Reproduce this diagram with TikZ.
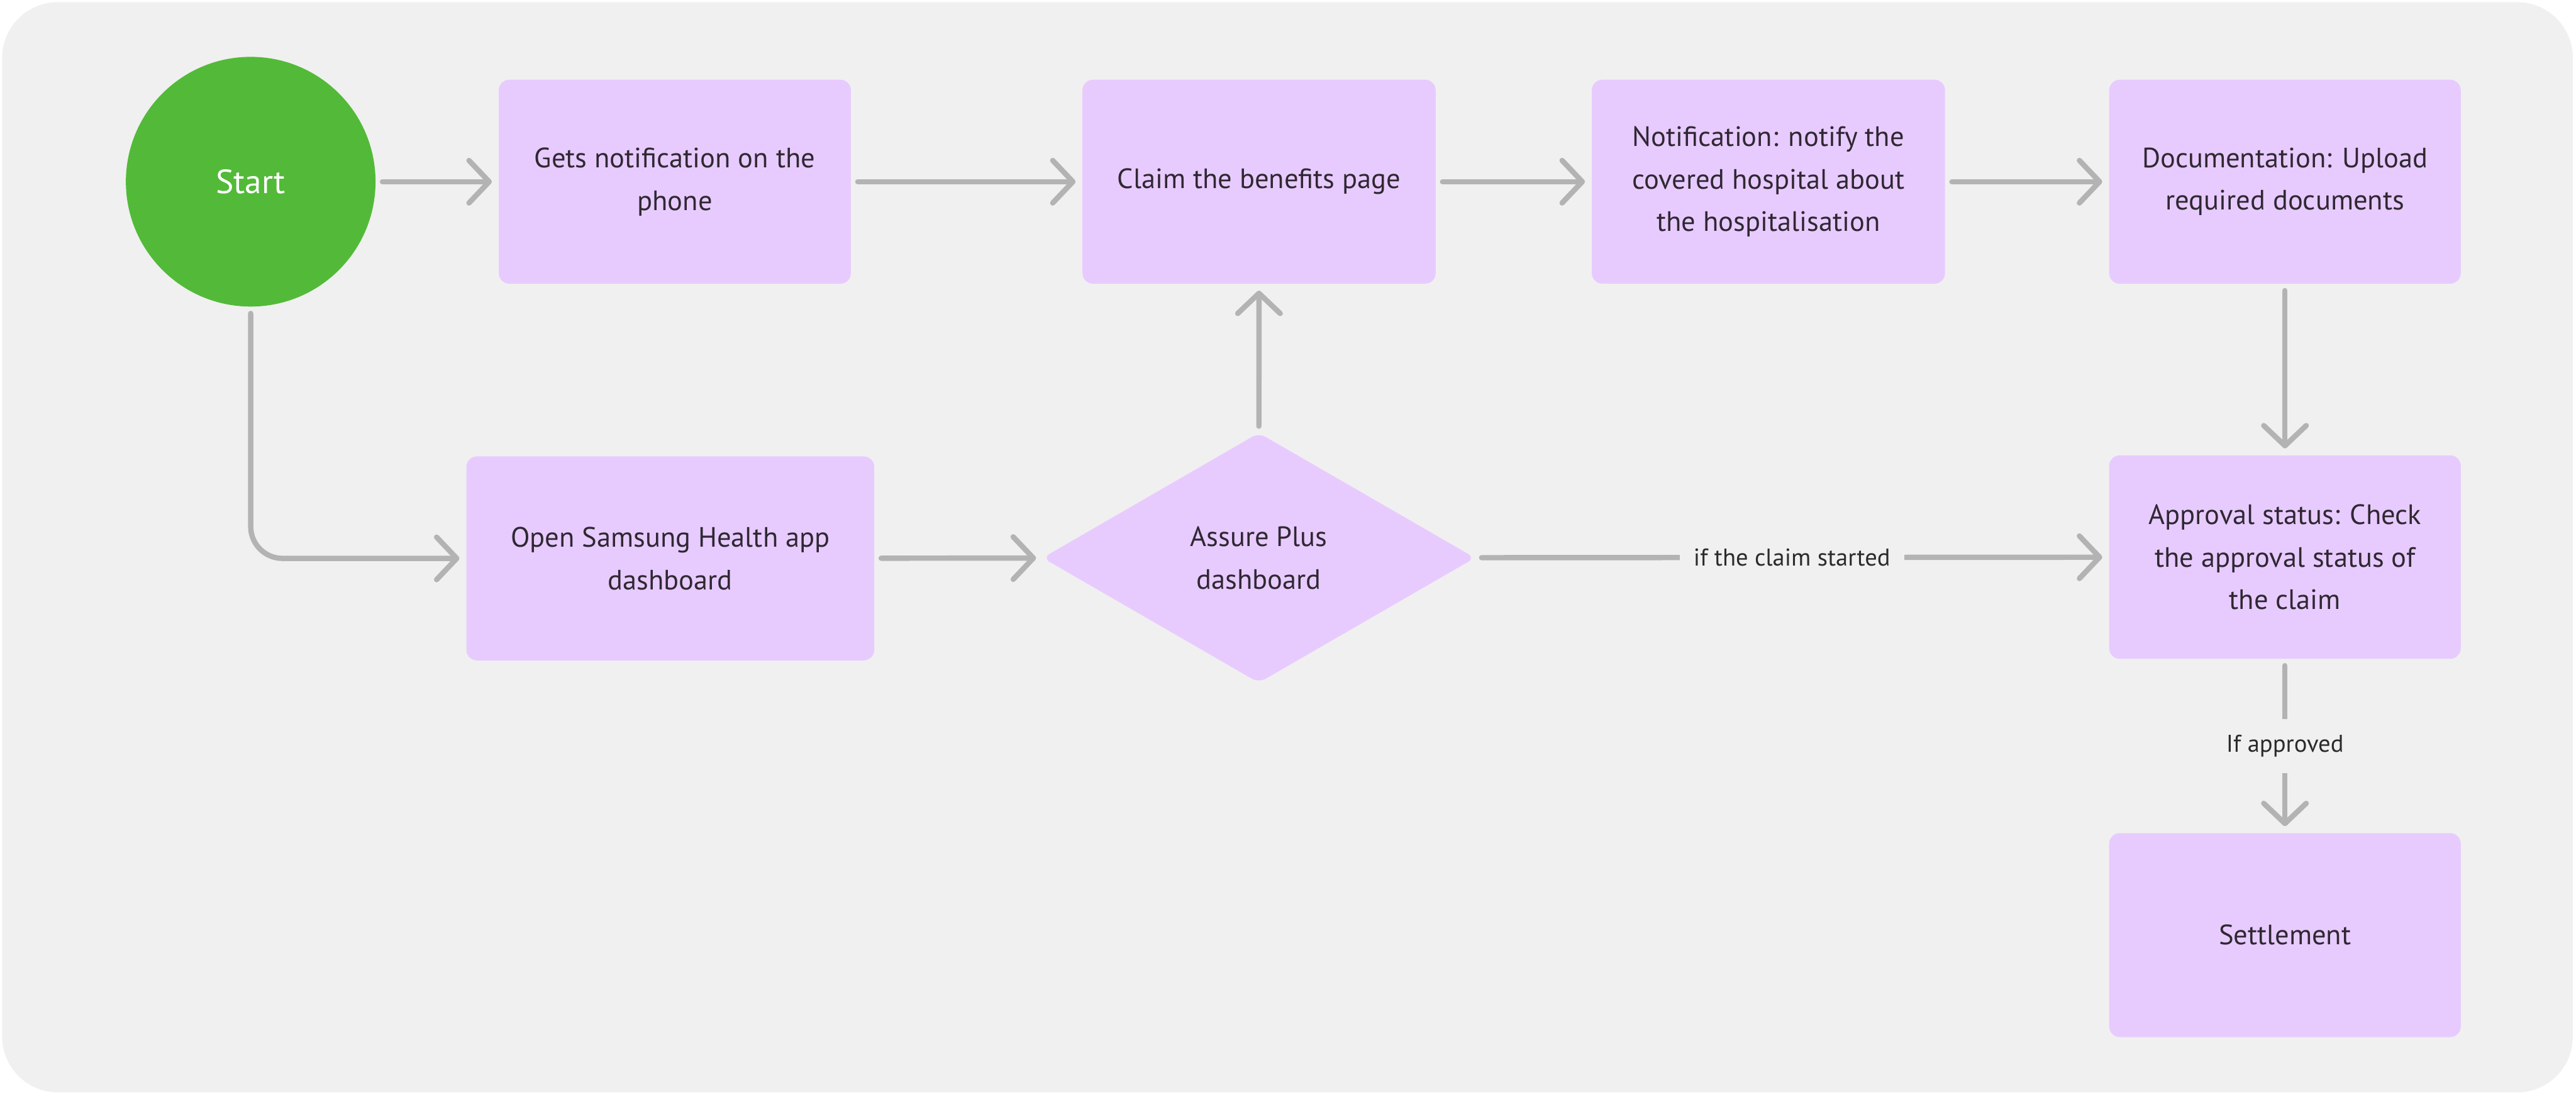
\documentclass[tikz,border=0pt]{standalone}
\usepackage{fontspec}
\setmainfont{PT Sans}
\usetikzlibrary{shapes.geometric,arrows.meta}
\definecolor{bg}{HTML}{F0F0F0}
\definecolor{boxfill}{HTML}{E8CBFE}
\definecolor{startgreen}{HTML}{52BA38}
\definecolor{arrowgray}{HTML}{B3B3B3}
\definecolor{txt}{HTML}{2F2833}
\definecolor{lbl}{HTML}{2B2B2B}
\begin{document}
\begin{tikzpicture}[
  stepbox/.style={rectangle, rounded corners=0.2cm, fill=boxfill, draw=none, text=txt,
    align=center, font=\fontsize{15pt}{22.8pt}\selectfont, minimum height=3.84cm,
    inner sep=0pt, outer sep=0pt},
  decision/.style={diamond, rounded corners=0.15cm, fill=boxfill, draw=none, text=txt,
    align=center, font=\fontsize{15pt}{22.8pt}\selectfont, minimum width=8.14cm,
    minimum height=4.70cm, inner sep=0pt, outer sep=0pt},
  startnode/.style={circle, fill=startgreen, draw=none, text=white,
    font=\fontsize{18pt}{22pt}\selectfont, minimum size=4.70cm, inner sep=0pt, outer sep=0pt},
  arr/.style={draw=arrowgray, line width=0.1cm, line cap=round,
    -{Straight Barb[length=0.38cm, width=0.8cm, round]},
    shorten <=0.13cm, shorten >=0.13cm},
  lblstyle/.style={fill=bg, text=lbl, font=\fontsize{13pt}{15pt}\selectfont,
    inner xsep=0.26cm, inner ysep=0.30cm}
]
\useasboundingbox (0,0) rectangle (48.5,-20.58);
\fill[white] (0,0) rectangle (48.5,-20.58);
\fill[bg, rounded corners=1.05cm] (0.04,-0.04) rectangle (48.44,-20.56);

\node[startnode] (start) at (4.72,-3.42) {Start};
\node[stepbox, minimum width=6.63cm] (notif) at (12.705,-3.42) {Gets notification on the\\phone};
\node[stepbox, minimum width=6.65cm] (claim) at (23.705,-3.42) {Claim the benefits page};
\node[stepbox, minimum width=6.65cm] (hosp) at (33.295,-3.42) {Notification: notify the\\covered hospital about\\the hospitalisation};
\node[stepbox, minimum width=6.62cm] (docs) at (43.02,-3.42) {Documentation: Upload\\required documents};
\node[stepbox, minimum width=7.68cm] (open) at (12.62,-10.51) {Open Samsung Health app\\dashboard};
\node[decision] (assure) at (23.70,-10.50) {Assure Plus\\dashboard};
\node[stepbox, minimum width=6.62cm, minimum height=3.83cm] (approval) at (43.02,-10.485) {Approval status: Check\\the approval status of\\the claim};
\node[stepbox, minimum width=6.62cm] (settle) at (43.02,-17.60) {Settlement};

\draw[arr] (start) -- (notif);
\draw[arr] (notif) -- (claim);
\draw[arr] (claim) -- (hosp);
\draw[arr] (hosp) -- (docs);
\draw[arr] (docs) -- (approval);
\draw[arr, rounded corners=0.6cm] (start) |- (open);
\draw[arr] (open) -- (assure);
\draw[arr] (assure) -- (claim);
\draw[arr] (assure) -- node[lblstyle] {if the claim started} (approval);
\draw[arr] (approval) -- node[lblstyle] {If approved} (settle);
\end{tikzpicture}
\end{document}
